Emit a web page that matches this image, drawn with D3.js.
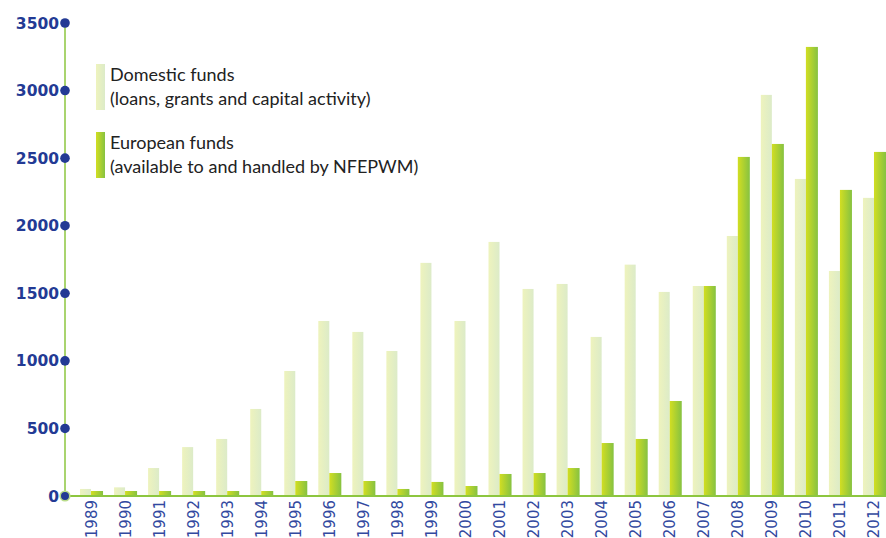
<!DOCTYPE html>
<html><head><meta charset="utf-8">
<script src="https://cdn.jsdelivr.net/npm/d3@7"></script>
<style>html,body{margin:0;padding:0;background:#fff;}svg{display:block;}</style>
</head><body>
<svg id="chart" width="886" height="538"></svg>
<script>
const years = ["1989","1990","1991","1992","1993","1994","1995","1996","1997","1998","1999","2000","2001","2002","2003","2004","2005","2006","2007","2008","2009","2010","2011","2012"];
const domestic = [52,64,207,362,422,644,925,1295,1214,1073,1725,1295,1880,1532,1569,1177,1712,1510,1554,1924,2968,2346,1665,2206];
const european = [37,37,37,37,37,37,111,170,111,52,104,74,163,170,207,392,422,703,1554,2509,2605,3323,2265,2546];
const yTicks = [0,500,1000,1500,2000,2500,3000,3500];
const legendLabels = [["Domestic funds","(loans, grants and capital activity)"],["European funds","(available to and handled by NFEPWM)"]];

const svg = d3.select("#chart");
const axisX = 65, baseY = 496, topY = 23;
const y = d3.scaleLinear().domain([0,3500]).range([baseY, topY]);
const x = d3.scaleBand().domain(years).range([74, 891]).paddingInner(0.353).paddingOuter(0.1765);
const sub = d3.scaleBand().domain(["d","e"]).range([0, x.bandwidth()]);

const defs = svg.append("defs");
const g1 = defs.append("linearGradient").attr("id","gDom").attr("x1","0").attr("x2","1").attr("y1","0").attr("y2","0");
g1.append("stop").attr("offset","0").attr("stop-color","#eef3bd");
g1.append("stop").attr("offset","1").attr("stop-color","#dcebc8");
const g2 = defs.append("linearGradient").attr("id","gEur").attr("x1","0").attr("x2","1").attr("y1","0").attr("y2","0");
g2.append("stop").attr("offset","0").attr("stop-color","#d2de22");
g2.append("stop").attr("offset","1").attr("stop-color","#86c241");

// bars
svg.append("g").selectAll("rect").data(years).join("rect")
  .attr("x", d => x(d) + sub("d")).attr("width", sub.bandwidth())
  .attr("y", (d,i) => y(domestic[i])).attr("height", (d,i) => baseY - y(domestic[i]))
  .attr("fill","url(#gDom)");
svg.append("g").selectAll("rect").data(years).join("rect")
  .attr("x", d => x(d) + sub("e")).attr("width", sub.bandwidth() + 1)
  .attr("y", (d,i) => y(european[i])).attr("height", (d,i) => baseY - y(european[i]))
  .attr("fill","url(#gEur)");

// axes lines
svg.append("line").attr("x1",axisX).attr("x2",axisX).attr("y1",topY).attr("y2",baseY)
  .attr("stroke","#8dc63f").attr("stroke-width",1.5);
svg.append("line").attr("x1",axisX).attr("x2",886).attr("y1",baseY).attr("y2",baseY)
  .attr("stroke","#8dc63f").attr("stroke-width",2);

// y ticks
const yt = svg.append("g");
yt.selectAll("circle").data(yTicks).join("circle")
  .attr("cx",axisX).attr("cy",d=>y(d)).attr("r",4.8)
  .attr("fill","#233a94")
  .attr("stroke", d => d===0 ? "#b9dc8a" : "none").attr("stroke-width", d => d===0 ? 1.6 : 0);
yt.selectAll("text").data(yTicks).join("text")
  .attr("x",axisX-6).attr("y",d=>y(d)).attr("dy","0.36em")
  .attr("text-anchor","end")
  .attr("font-family","DejaVu Sans, Verdana, sans-serif").attr("font-weight","bold").attr("font-size","15.5px")
  .attr("fill","#233a94").text(d=>d);

// x labels
svg.append("g").selectAll("text").data(years).join("text")
  .attr("transform", d => `translate(${x(d)+x.bandwidth()/2+5.5},${baseY+4}) rotate(-90)`)
  .attr("text-anchor","end")
  .attr("font-family","DejaVu Sans, Verdana, sans-serif").attr("font-size","15px")
  .attr("fill","#3249a0").text(d=>d);

// legend
const lg = svg.append("g");
const ly = [64,132];
const lfill = ["url(#gDom)","url(#gEur)"];
legendLabels.forEach((lab,i) => {
  lg.append("rect").attr("x",96).attr("y",ly[i]).attr("width",9).attr("height",46).attr("fill",lfill[i]);
  lab.forEach((t,j) => {
    lg.append("text").attr("x",110).attr("y",ly[i]+17+j*24)
      .attr("font-family","Lato, Open Sans, sans-serif").attr("font-size","18px")
      .attr("fill","#222").text(t);
  });
});
</script>
</body></html>
